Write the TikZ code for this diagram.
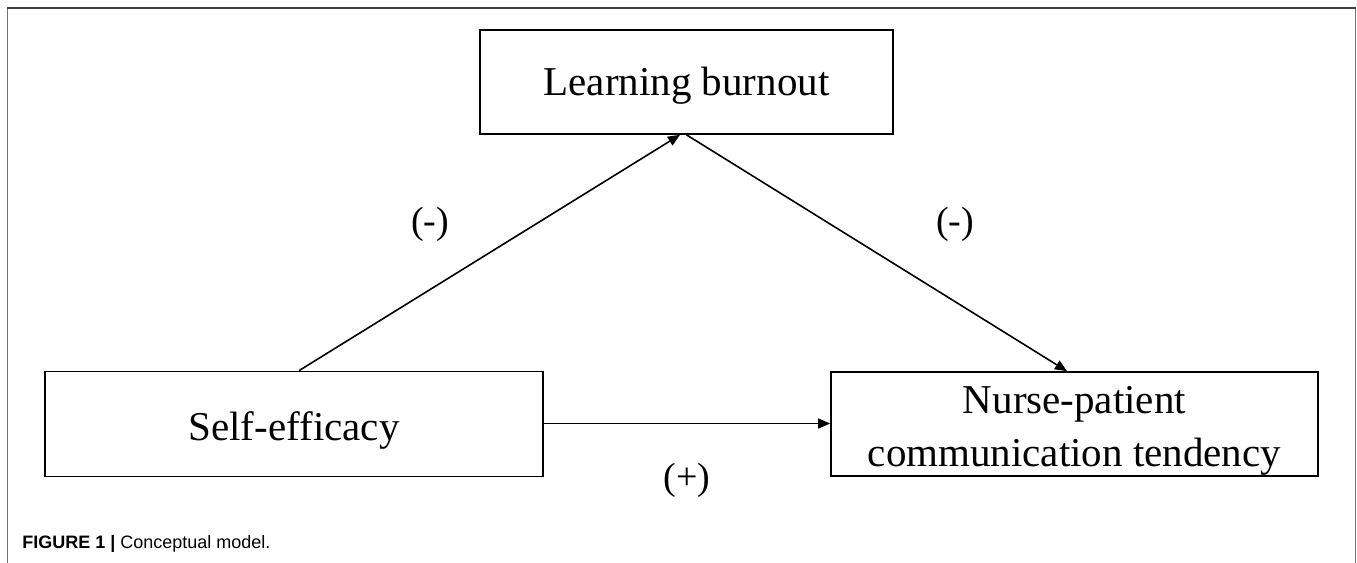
\documentclass[tikz,border=0pt]{standalone}
\usepackage{fontspec}
\setmainfont{Liberation Serif}
\newfontfamily\capfont{Liberation Sans}
\usetikzlibrary{arrows.meta}
\begin{document}
\begin{tikzpicture}[x=0.5pt,y=-0.5pt,
  concept/.style={draw=black, line width=0.85pt, rectangle, inner sep=0pt},
  conceptText/.style={inner sep=0pt, align=center, font=\fontsize{20.5}{25.8}\selectfont},
  link/.style={draw=black, line width=0.8pt, -{Triangle[length=6pt,width=5pt]}},
  sign/.style={inner sep=0pt, font=\fontsize{19}{22}\selectfont},
  frame/.style={line width=0.8pt}]
\useasboundingbox (0,0) rectangle (1357,563);
% frame
\draw[frame, draw=black!55] (7.5,9) -- (7.5,563);
\draw[frame, draw=black!55] (1355.5,9) -- (1355.5,563);
\draw[frame, draw=black!75] (7,8) -- (1356,8);
% boxes
\node[concept, minimum width=206.5pt, minimum height=52pt] (lb) at (686.5,82) {};
\node[concept, minimum width=249pt, minimum height=52.5pt] (se) at (294,424) {};
\node[concept, minimum width=243.5pt, minimum height=52pt] (np) at (1074.5,424) {};
\node[conceptText, yshift=-2pt] (lbt) at (lb.center) {Learning burnout};
\node[conceptText, yshift=-3pt] (set) at (se.center) {Self-efficacy};
\node[conceptText, yshift=-3.5pt] (npt) at (np.center) {Nurse-patient\\[0.5pt]communication tendency};
% connectors
\draw[link] ([xshift=2.5pt]se.north) -- ([xshift=-3.25pt]lb.south);
\draw[link] (lb.south) -- ([xshift=-3.75pt]np.north);
\draw[link] ([yshift=0.25pt]se.east) -- ([yshift=0.25pt]se.east -| np.west);
% signs
\node[sign] (s1) at (430,224) {(-)};
\node[sign] (s2) at (955,224) {(-)};
\node[sign] (s3) at (687,480) {(+)};
% caption
\node[anchor=west, inner sep=0pt, font=\capfont\fontsize{9}{11}\selectfont] (cap) at (22,544)
  {\textbf{FIGURE 1} \textbf{|} Conceptual model.};
\end{tikzpicture}
\end{document}
